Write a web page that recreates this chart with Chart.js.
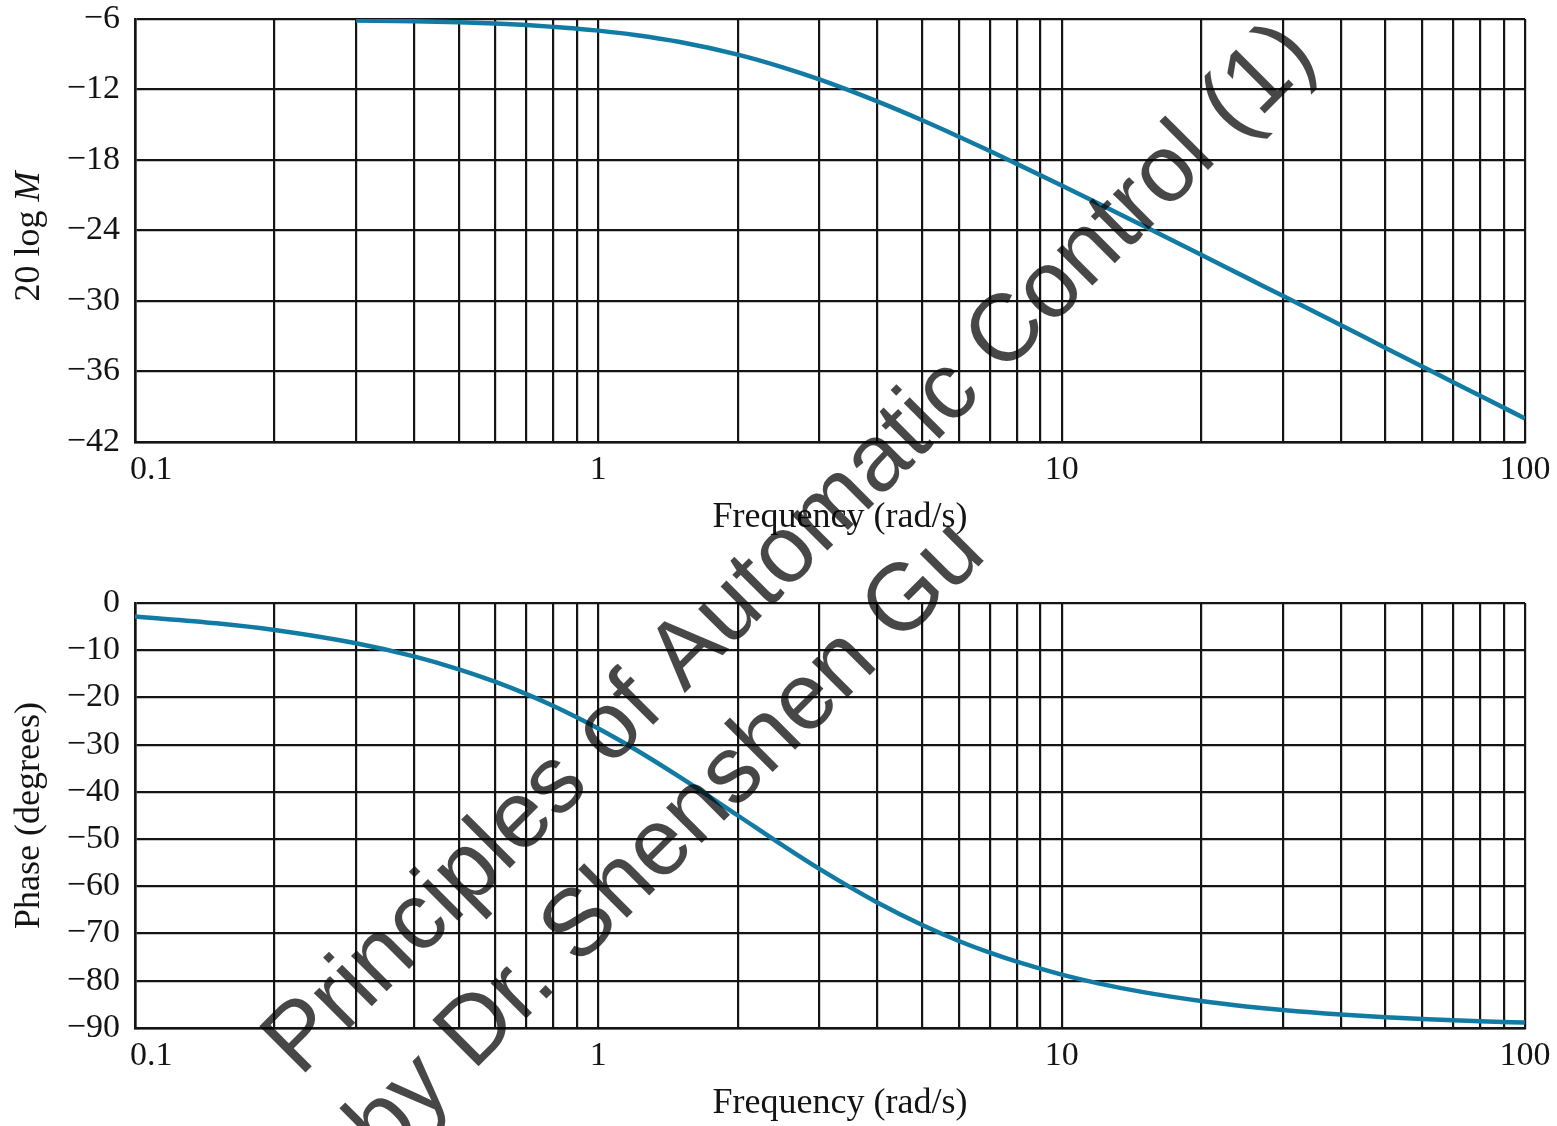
<!DOCTYPE html>
<html>
<head>
<meta charset="utf-8">
<script src="https://cdn.jsdelivr.net/npm/chart.js@4.4.1/dist/chart.umd.min.js"></script>
<style>
  html, body { margin: 0; padding: 0; background: #fff; }
  #page { position: relative; width: 1557px; height: 1126px; overflow: hidden; }
  canvas { position: absolute; left: 0; }
  #magChart { top: 0; }
  #phaseChart { top: 560px; }
  #stamp { top: 0; pointer-events: none; }
</style>
</head>
<body>
<div id="page">
  <canvas id="magChart" width="1557" height="560"></canvas>
  <canvas id="phaseChart" width="1557" height="566"></canvas>
  <canvas id="stamp" width="1557" height="1126"></canvas>
</div>
<script>
// frequency response, rad/s
const magFreq = [0.3, 0.4, 0.5, 0.6, 0.7, 0.8, 0.9, 1, 1.2, 1.5, 2, 2.5, 3, 4, 5, 6, 7, 8, 10, 12, 15, 20, 25, 30, 40, 50, 60, 70, 80, 100];
const magDb = [-6.12, -6.19, -6.28, -6.39, -6.52, -6.67, -6.82, -6.99, -7.36, -7.96, -9.03, -10.11, -11.14, -13.01, -14.62, -16.02, -17.24, -18.33, -20.17, -21.70, -23.60, -26.06, -27.99, -29.56, -32.05, -33.99, -35.57, -36.91, -38.06, -40.00];

const phaseFreq = [0.1, 0.15, 0.2, 0.3, 0.4, 0.5, 0.6, 0.7, 0.8, 0.9, 1, 1.2, 1.5, 2, 2.5, 3, 4, 5, 6, 7, 8, 10, 12, 15, 20, 25, 30, 40, 50, 60, 70, 80, 100];
const phaseDeg = [-2.86, -4.29, -5.71, -8.53, -11.31, -14.04, -16.70, -19.29, -21.80, -24.23, -26.57, -30.96, -36.87, -45.00, -51.34, -56.31, -63.43, -68.20, -71.57, -74.05, -75.96, -78.69, -80.54, -82.41, -84.29, -85.43, -86.19, -87.14, -87.71, -88.09, -88.36, -88.57, -88.85];

// log grid lines and labelled decades
const freqGrid = [0.1, 0.2, 0.3, 0.4, 0.5, 0.6, 0.7, 0.8, 0.9, 1, 2, 3, 4, 5, 6, 7, 8, 9, 10, 20, 30, 40, 50, 60, 70, 80, 90, 100];
const freqLabels = [0.1, 1, 10, 100];
const magTicks = [-42, -6, 6];     // min, max, step
const phaseTicks = [-90, 0, 10];

const xTitle = 'Frequency (rad/s)';
const magTitle = [{ t: '20 log ', it: false }, { t: 'M', it: true }];
const phaseTitle = [{ t: 'Phase (degrees)', it: false }];

const stampLines = ['Principles of Automatic Control (1)', 'by Dr. Shenshen Gu'];

const curveColor = '#127ba3';
const ink = '#141414';
const serif = '"Liberation Serif", "DejaVu Serif", serif';

Chart.defaults.font.family = serif;
Chart.defaults.color = ink;

const minus = v => (v < 0 ? '\u2212' + Math.abs(v) : String(v));

const axisText = {
  id: 'axisText',
  afterDraw(chart, args, opts) {
    const { ctx, chartArea } = chart;
    const xs = chart.scales.x;
    ctx.save();
    ctx.fillStyle = ink;
    ctx.textBaseline = 'middle';
    ctx.font = '34px ' + serif;
    freqLabels.forEach((v, i) => {
      const px = xs.getPixelForValue(v);
      ctx.textAlign = i === 0 ? 'left' : 'center';
      ctx.fillText(String(v), i === 0 ? px - 5 : px, chartArea.bottom + 28);
    });

    ctx.font = '36px ' + serif;
    ctx.textAlign = 'center';
    ctx.fillText(xTitle, (chartArea.left + chartArea.right) / 2 + 10, chartArea.bottom + 76);

    // rotated y title, pieces may be italic
    const parts = opts.title.map(p => ({ ...p, font: (p.it ? 'italic ' : '') + '36px ' + serif }));
    let total = 0;
    parts.forEach(p => { ctx.font = p.font; p.w = ctx.measureText(p.t).width; total += p.w; });
    ctx.translate(30, (chartArea.top + chartArea.bottom) / 2 + opts.shift);
    ctx.rotate(-Math.PI / 2);
    ctx.textAlign = 'left';
    let x = -total / 2;
    parts.forEach(p => { ctx.font = p.font; ctx.fillText(p.t, x, 0); x += p.w; });
    ctx.restore();
  }
};

function makeChart(id, freq, vals, ticks, title, shift, pad, axisH) {
  return new Chart(document.getElementById(id).getContext('2d'), {
    type: 'line',
    data: {
      datasets: [{
        data: freq.map((f, i) => ({ x: f, y: vals[i] })),
        borderColor: curveColor,
        borderWidth: 4.5,
        pointRadius: 0,
        cubicInterpolationMode: 'monotone',
        fill: false
      }]
    },
    options: {
      responsive: false,
      animation: false,
      layout: { padding: { top: pad, right: 32, left: 0, bottom: 0 } },
      plugins: { legend: { display: false }, tooltip: { enabled: false }, axisText: { title, shift } },
      scales: {
        x: {
          type: 'logarithmic',
          min: freqGrid[0],
          max: freqGrid[freqGrid.length - 1],
          afterBuildTicks: s => { s.ticks = freqGrid.map(v => ({ value: v })); },
          afterFit: s => { s.height = axisH; },
          ticks: { display: false },
          grid: { color: ink, lineWidth: 2.2, drawTicks: false },
          border: { color: ink, width: 2.6 }
        },
        y: {
          min: ticks[0],
          max: ticks[1],
          afterFit: s => { s.width = 135; s.paddingTop = 0; s.paddingBottom = 0; },
          ticks: {
            stepSize: ticks[2],
            padding: 15,
            font: { size: 34 },
            color: ink,
            callback: v => minus(v)
          },
          grid: { color: ink, lineWidth: 2.2, drawTicks: false },
          border: { color: ink, width: 2.6 }
        }
      }
    },
    plugins: [axisText]
  });
}

makeChart('magChart', magFreq, magDb, magTicks, magTitle, 6, 19, 118);
makeChart('phaseChart', phaseFreq, phaseDeg, phaseTicks, phaseTitle, 0, 43, 98);

// diagonal course stamp laid over both panels
const sc = document.getElementById('stamp').getContext('2d');
sc.save();
sc.translate(300, 1078);
sc.rotate(-45 * Math.PI / 180);
sc.fillStyle = 'rgba(0, 0, 0, 0.72)';
sc.font = '95px "Liberation Sans", Arial, sans-serif';
sc.textBaseline = 'alphabetic';
stampLines.forEach((t, i) => sc.fillText(t, 0, i * 118));
sc.restore();
</script>
</body>
</html>
